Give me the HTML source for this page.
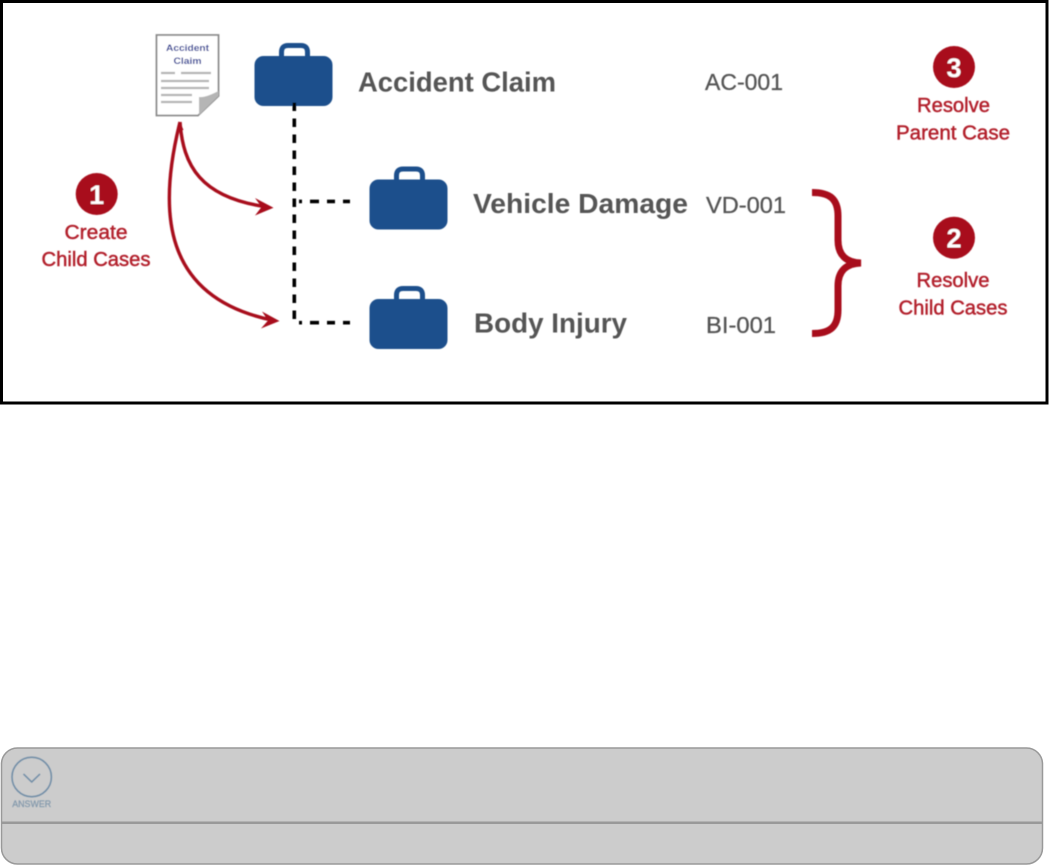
<!DOCTYPE html>
<html><head><meta charset="utf-8"><style>
html,body{margin:0;padding:0;background:#fff;width:1049px;height:865px;overflow:hidden}
svg{display:block}
text{font-family:"Liberation Sans","DejaVu Sans",sans-serif}
</style></head><body>
<svg width="1049" height="865" viewBox="0 0 1049 865" xmlns="http://www.w3.org/2000/svg">
<defs>
<filter id="b" x="-5%" y="-5%" width="110%" height="110%"><feGaussianBlur stdDeviation="0.5"/></filter>
<g id="case">
<path d="M27 16V10Q27 3.500 33.500 3.500H46.500Q53 3.500 53 10V16" fill="none" stroke="#1d4f8c" stroke-width="5"/>
<rect x="0" y="14" width="78" height="50" rx="9" fill="#1d4f8c"/>
</g>
</defs>
<rect x="1.500" y="1.500" width="1045.500" height="401.500" fill="#fff" stroke="#000" stroke-width="3"/>
<g filter="url(#b)">
<!-- document -->
<path d="M156.500 35H218.500V96L198 115.500H156.500Z" fill="#fff" stroke="#8a8a8a" stroke-width="1.800"/>
<path d="M199 115L218.500 96V91Q205 98 199 97Z" fill="#b5b5b5"/>
<text x="187.500" y="51" font-size="9" font-weight="bold" fill="#2f3f96" text-anchor="middle" textLength="43" lengthAdjust="spacingAndGlyphs">Accident</text>
<text x="187.500" y="64" font-size="9" font-weight="bold" fill="#2f3f96" text-anchor="middle" textLength="28" lengthAdjust="spacingAndGlyphs">Claim</text>
<g stroke="#b4b4b4" stroke-width="2.200">
<path d="M161 73H175M181 73H211M161 81H209M161 88H209M161 95H192M161 102H192"/>
</g>
<use href="#case" x="254.500" y="42"/>
<use href="#case" x="369.500" y="165.500"/>
<use href="#case" x="369.500" y="285"/>
<!-- dashed tree -->
<g fill="none" stroke="#000" stroke-width="3.600">
<path d="M294.300 102.500V319" stroke-dasharray="8.500 7.500"/>
<path d="M299 201.400H350" stroke-dasharray="3 8 9 8 8 8 7"/>
<path d="M299 322.700H350" stroke-dasharray="3 8 9 8 8 8 7"/>
</g>
<!-- arrows -->
<g fill="none" stroke="#a8111e" stroke-width="3.400">
<path d="M180 122C183 165 200 198 268 207"/>
<path d="M180 122C158 210 161 298 274 320.500"/>
</g>
<path d="M180 122L176.500 130H183.500Z" fill="#a8111e"/>
<path d="M255 198L273.500 207.700L255 215.500L261.500 207Z" fill="#a8111e"/>
<path d="M262 311.500L279.500 321L261 328.500L268 320.500Z" fill="#a8111e"/>
<!-- brace -->
<path d="M812 192.500C830 192.500 838 199 838 216V240C838 255 846 262.500 861 263C846 263.500 838 271 838 286V310C838 327 830 333.500 812 333.500" fill="none" stroke="#a8111e" stroke-width="7"/>
<!-- circles -->
<g fill="#a8111e">
<circle cx="96.700" cy="194" r="21"/>
<circle cx="954" cy="237.700" r="21"/>
<circle cx="954" cy="67" r="21"/>
</g>
<g fill="#fff" font-size="27" font-weight="bold" text-anchor="middle">
<text x="96.700" y="204">1</text>
<text x="954" y="247.500">2</text>
<text x="954" y="77">3</text>
</g>
<!-- red labels -->
<g fill="#b2202c" stroke="#b2202c" stroke-width="0.450" font-size="20" text-anchor="middle">
<text x="96" y="239" textLength="63" lengthAdjust="spacingAndGlyphs">Create</text>
<text x="96" y="266" textLength="109" lengthAdjust="spacingAndGlyphs">Child Cases</text>
<text x="953.500" y="112" textLength="73" lengthAdjust="spacingAndGlyphs">Resolve</text>
<text x="953" y="139.500" textLength="114" lengthAdjust="spacingAndGlyphs">Parent Case</text>
<text x="953" y="287" textLength="73" lengthAdjust="spacingAndGlyphs">Resolve</text>
<text x="953" y="314.500" textLength="109" lengthAdjust="spacingAndGlyphs">Child Cases</text>
</g>
<!-- titles -->
<g fill="#555" font-size="28" font-weight="bold">
<text x="358" y="91.500" textLength="198" lengthAdjust="spacingAndGlyphs">Accident Claim</text>
<text x="473" y="213" textLength="215" lengthAdjust="spacingAndGlyphs">Vehicle Damage</text>
<text x="474" y="332.500" textLength="153" lengthAdjust="spacingAndGlyphs">Body Injury</text>
</g>
<g fill="#555" stroke="#555" stroke-width="0.300" font-size="23">
<text x="705" y="90" textLength="78" lengthAdjust="spacingAndGlyphs">AC-001</text>
<text x="706" y="213" textLength="80" lengthAdjust="spacingAndGlyphs">VD-001</text>
<text x="706" y="333" textLength="70" lengthAdjust="spacingAndGlyphs">BI-001</text>
</g>
</g>
<!-- answer panel -->
<rect x="1.500" y="748" width="1041" height="116" rx="16" fill="#ccc" stroke="#999" stroke-width="1.500"/>
<rect x="1" y="821.500" width="1042" height="2.500" fill="#999"/>
<g filter="url(#b)">
<circle cx="31.700" cy="777" r="19.700" fill="none" stroke="#6f8ca6" stroke-width="1.500"/>
<path d="M23.500 774L31.700 782L40 774" fill="none" stroke="#6f8ca6" stroke-width="1.500"/>
<text x="31.700" y="807" font-size="9" fill="#7f96aa" stroke="#7f96aa" stroke-width="0.200" text-anchor="middle" textLength="39" lengthAdjust="spacingAndGlyphs">ANSWER</text>
</g>
</svg>
</body></html>
